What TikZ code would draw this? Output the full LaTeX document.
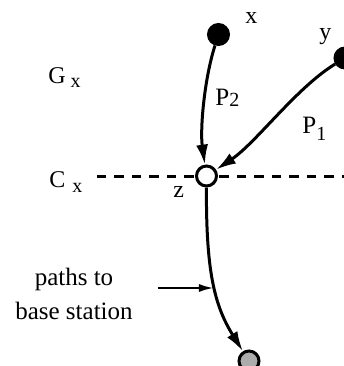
\documentclass[tikz,border=0pt]{standalone}
\usepackage{fontspec}
\setmainfont{Liberation Serif}
\usetikzlibrary{arrows.meta, positioning}
\definecolor{basegray}{RGB}{172,172,172}
\newcommand{\lowsub}[2]{\raisebox{-#1}{\fontsize{10}{10}\selectfont #2}}

\begin{document}
\begin{tikzpicture}[
  x=0.5pt, y=-0.5pt,
  sensor/.style={circle, draw=black, fill=black, line width=1pt,
                 minimum size=10.5pt, inner sep=0pt},
  hub/.style={circle, draw=black, fill=white, line width=1.5pt,
              minimum size=10pt, inner sep=0pt},
  sink/.style={hub, fill=basegray},
  lbl/.style={inner sep=0pt, anchor=base west, font=\fontsize{12}{14}\selectfont},
  route/.style={-{Latex[length=10pt, width=6pt]}, line width=1.5pt},
  pointer/.style={-{Latex[length=7pt, width=4pt]}, line width=0.75pt},
  cutline/.style={line width=1.5pt, dash pattern=on 4.75pt off 4pt}
]
  \useasboundingbox (0,0) rectangle (344,366);

  % cut C_x
  \coordinate (cutL) at (97,176);
  \coordinate (cutR) at (350,176);
  \draw[cutline] (cutL) -- (cutR);

  % nodes
  \node[sensor] (xn) at (218.5,34.5) {};
  \node[sensor] (yn) at (345,58) {};
  \node[hub]    (zn) at (206.5,176) {};
  \node[sink]   (bs) at (249,361) {};

  % labels
  \node[lbl] (xl) at (245,23) {x};
  \node[lbl] (yl) at (319,39) {y};
  \node[lbl] (zl) at (173,197) {z};
  \node[lbl] (gx) at (48,83) {G\hspace{2.5pt}\lowsub{2pt}{x}};
  \node[lbl] (cx) at (49,187) {C\hspace{3.5pt}\lowsub{2.5pt}{x}};
  \node[lbl, font=\fontsize{12.5}{14}\selectfont] (p2) at (215,105) {P\lowsub{0.5pt}{2}};
  \node[lbl, font=\fontsize{12.5}{14}\selectfont] (p1) at (302,133) {P\lowsub{3.5pt}{1}};
  \node[inner sep=0pt, align=center, font=\fontsize{12.5}{17}\selectfont] (note)
    at (74,294) {paths to\\base station};

  % paths
  \draw[route] (xn) .. controls (204,80) and (200,130) .. (zn);
  \draw[route] (yn) .. controls (296,88) and (256,143) .. (zn);
  \draw[route] (zn) .. controls (206,270) and (214,305) .. (bs);

  % pointer to the path
  \coordinate (ptail) at (158,288);
  \coordinate (phead) at (213,288);
  \draw[pointer] (ptail) -- (phead);
\end{tikzpicture}
\end{document}
